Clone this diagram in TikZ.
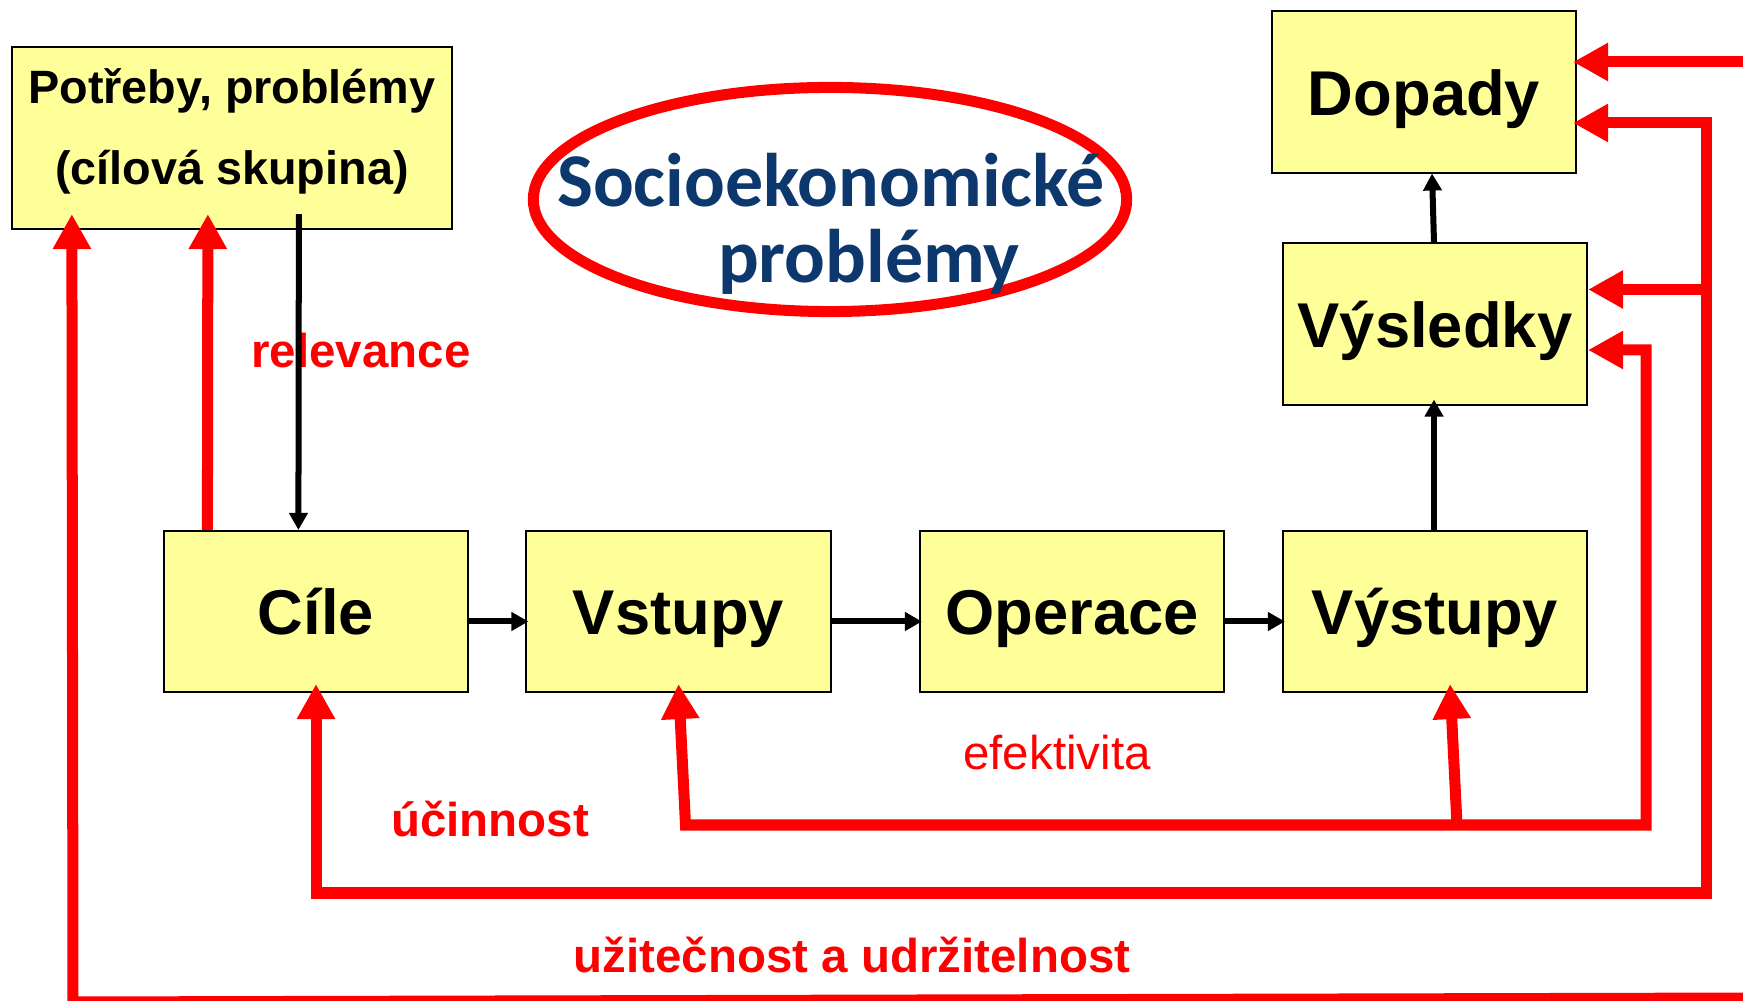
\documentclass[tikz,border=0pt]{standalone}
\usepackage{fontspec}
\setmainfont{Liberation Sans}
\newfontfamily\sociofont{Carlito}
\usetikzlibrary{arrows.meta}
\usetikzlibrary{calc}
\definecolor{boxyellow}{RGB}{255,255,153}
\definecolor{socioblue}{RGB}{12,56,110}
\tikzset{
  box/.style={draw=black, line width=0.2mm, fill=boxyellow, inner sep=0pt,
    minimum width=3.04cm, minimum height=1.61cm},
  stage/.style={box, font=\fontsize{18}{20}\selectfont\bfseries,
    text height=1.52em, text depth=0.2em},
  socio/.style={text=socioblue, anchor=base, inner sep=0pt,
    font=\sociofont\bfseries\fontsize{21.6}{21.6}\selectfont},
  crit/.style={red, anchor=base, inner sep=0pt,
    font=\fontsize{13.5}{16}\selectfont\bfseries},
  flowarrow/.style={line width=0.6mm, >={Triangle[length=1.7mm,width=1.8mm]}},
  feedback/.style={red, line width=1.1mm, >={Triangle[length=3.5mm,width=3.6mm]}}
}

\begin{document}
\begin{tikzpicture}[
     x={(0.01cm,0cm)},y={(0cm,-0.01cm)},   % pixel grid, y runs down
  ]
  \useasboundingbox (0,0) rectangle (1743,1001);
  % boxes
  \node[box, minimum width=4.4cm, minimum height=1.82cm, align=center,
        font=\fontsize{13.3}{22.8}\selectfont\bfseries]
        (potreby) at (232,138) {Potřeby, problémy\\(cílová skupina)\rule[-6.5pt]{0pt}{0pt}};
  \node[stage] (dopady)   at (1424,92)    {Dopady};
  \node[stage] (vysledky) at (1435,324)   {Výsledky};
  \node[stage] (cile)     at (316,611.5)  {Cíle};
  \node[stage] (vstupy)   at (678.5,611.5) {Vstupy};
  \node[stage] (operace)  at (1072,611.5) {Operace};
  \node[stage] (vystupy)  at (1435,611.5) {Výstupy};

  \draw[red, line width=1.1mm] (830,199.5) ellipse [x radius=2.965cm, y radius=1.12cm];
  \node[socio] (socioA) at (831,207) {Socioekonomické};
  \node[socio] (socioB) at (869,283) {problémy};

  % criteria
  \node[crit] (relevance)  at (361,368) {relevance};
  \node[crit, font=\fontsize{13.5}{16}\selectfont] (efektivita) at (1057,769) {efektivita};
  \node[crit] (ucinnost)   at (490,837) {účinnost};
  \node[crit] (uzitecnost) at (852,972) {užitečnost a udržitelnost};

  % chain
  \draw[flowarrow,->] ($(cile.east)+(0,10)$) -- ($(vstupy.west)+(3,10)$);
  \draw[flowarrow,->] ($(vstupy.east)+(0,10)$) -- ($(operace.west)+(3,10)$);
  \draw[flowarrow,->] ($(operace.east)+(0,10)$) -- ($(vystupy.west)+(3,10)$);
  \draw[flowarrow,->] ($(vystupy.north)+(-1,0)$) -- ($(vysledky.south)+(-1,-6)$);
  \draw[flowarrow,->] ($(vysledky.north)+(-1,0)$) -- ($(dopady.south)+(8,0)$);
  \draw[flowarrow,->] ($(potreby.south west)+(288,-16)$) -- ($(cile.north west)+(135.5,0)$);

  % feedback loops
  \draw[feedback,->] ($(cile.north west)+(44.5,0)$) -- ($(potreby.south west)+(197,-16)$);
  \draw[feedback,<->] ($(vstupy.south)+(0,-9)$) -- (685.5,825) -- (1646,825)
        |- ($(vysledky.east)+(0,26)$);
  \draw[feedback,->] (1457,825) -- ($(vystupy.south)+(15,-9)$);
  \draw[feedback,<->] ($(dopady.east)+(-4,31)$) -| (1706,893) -| ($(cile.south)+(0,-9)$);
  \draw[feedback,->] (1706,289.5) -- ($(vysledky.east)+(0,-34.5)$);
  \coordinate (offtop) at (1760,62);
  \coordinate (offbot) at (1760,998);
  \draw[feedback,->] (offtop) -- ($(dopady.east)+(-4,-30)$);
  \draw[feedback,->] (offbot) -- (73,1002) -- ($(potreby.south west)+(61,-16)$);
\end{tikzpicture}
\end{document}
